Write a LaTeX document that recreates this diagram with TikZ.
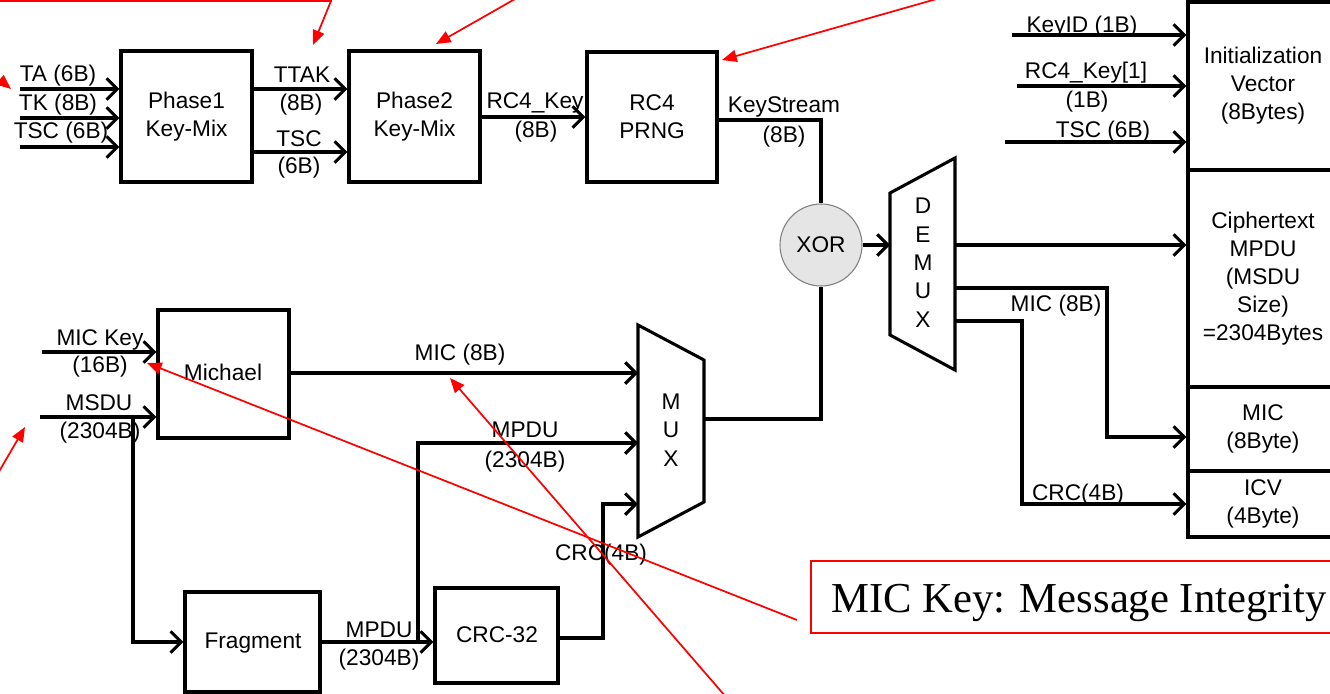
\documentclass[tikz,border=0pt]{standalone}
\usepackage{fontspec}
\setmainfont{Liberation Sans}
\newfontfamily\calloutfamily{Liberation Serif}
\usetikzlibrary{arrows.meta}
\newcommand{\lblfont}{\fontsize{17}{21}\selectfont}
\begin{document}
\begin{tikzpicture}[x=0.75pt,y=-0.75pt,
  line width=2.3pt,
  blk/.style={draw, line width=2.3pt, inner sep=0pt, align=center, font=\lblfont},
  lbl/.style={font=\lblfont, inner sep=0pt, anchor=base},
  arr/.style={-{Straight Barb[length=8pt,width=16pt]}},
  redarr/.style={draw=red, line width=1.3pt, -{Triangle[length=11pt,width=9pt]}},
]
\useasboundingbox (0,0) rectangle (1330,693);
\clip (0,0) rectangle (1330,693);

% ---------- boxes ----------
\node[blk, minimum width=98.25pt, minimum height=98.25pt] (p1) at (186.5,116.5) {Phase1\\Key-Mix};
\node[blk, minimum width=98.25pt, minimum height=98.25pt] (p2) at (414.5,116.5) {Phase2\\Key-Mix};
\node[blk, minimum width=97.5pt, minimum height=97.5pt] (rc4) at (652,117) {RC4\\PRNG};
\node[blk, minimum width=98.25pt, minimum height=96pt] (mich) at (223.5,374) {};
\node[lbl] (michtxt) at (223,380) {Michael};
\node[blk, minimum width=101.25pt, minimum height=75pt] (frag) at (252.5,642) {};
\node[lbl] (fragtxt) at (253,648) {Fragment};
\node[blk, minimum width=92.25pt, minimum height=71.25pt] (crc) at (496.5,635.5) {};
\node[lbl] (crctxt) at (497,642) {CRC-32};

\node[draw=gray, line width=0.8pt, fill=gray!20, circle, minimum size=61.5pt, inner sep=0pt, font=\lblfont] (xor) at (821,245) {XOR};

% right column
\node[blk, minimum width=112.5pt, minimum height=126pt] (iv) at (1263,86) {Initialization\\Vector\\(8Bytes)};
\node[blk, minimum width=112.5pt, minimum height=162.75pt] (ct) at (1263,278.5) {Ciphertext\\MPDU\\(MSDU\\Size)\\=2304Bytes};
\node[blk, minimum width=112.5pt, minimum height=63pt] (micb) at (1263,429) {MIC\\(8Byte)};
\node[blk, minimum width=112.5pt, minimum height=49.5pt] (icv) at (1263,504) {ICV\\(4Byte)};

% MUX / DEMUX
\draw (638,325) -- (704,360) -- (704,502) -- (638,537) -- cycle;
\node[lbl] (muxM) at (671,409) {M};
\node[lbl] (muxU) at (671,437) {U};
\node[lbl] (muxX) at (671,466) {X};
\coordinate (muxA) at (638,373);
\coordinate (muxB) at (638,443);
\coordinate (muxC) at (638,504);
\coordinate (muxOut) at (704,419);

\draw (890,193) -- (955,158) -- (955,370) -- (890,335) -- cycle;
\node[lbl] (dD) at (923,213) {D};
\node[lbl] (dE) at (923,242) {E};
\node[lbl] (dM) at (923,270) {M};
\node[lbl] (dU) at (923,298) {U};
\node[lbl] (dX) at (923,327) {X};
\coordinate (dmxIn) at (890,245);
\coordinate (dmx1) at (955,245);
\coordinate (dmx2) at (955,288);
\coordinate (dmx3) at (955,321);

% ---------- input coordinates ----------
\coordinate (inTA) at (20,89);
\coordinate (inTK) at (20,118);
\coordinate (inTSC) at (20,147);
\coordinate (inMK) at (42,352);
\coordinate (inMSDU) at (40,417);
\coordinate (msduBr) at (133,417);
\coordinate (mpduBr) at (418,642);
\coordinate (inKID) at (1012,35);
\coordinate (inRK) at (1017,86);
\coordinate (inTSC2) at (1005,142);

% ---------- connectors ----------
\draw[arr] (inTA) -- (p1.west |- inTA);
\draw[arr] (inTK) -- (p1.west |- inTK);
\draw[arr] (inTSC) -- (p1.west |- inTSC);
\draw[arr] (p1.east |- 0,89) -- (p2.west |- 0,89);
\draw[arr] (p1.east |- 0,152) -- (p2.west |- 0,152);
\draw[arr] (p2.east |- 0,117) -- (rc4.west |- 0,117);
\draw (rc4.east |- 0,120) -| (xor.north);
\draw[arr] (xor.east) -- (dmxIn);
\draw (muxOut) -| (xor.south);

\draw[arr] (inMK) -- (mich.west |- inMK);
\draw[arr] (inMSDU) -- (mich.west |- inMSDU);
\draw[arr] (msduBr) -- (133,642) -- (frag.west |- 0,642);
\draw[arr] (mich.east |- muxA) -- (muxA);
\draw[arr] (frag.east |- 0,642) -- (crc.west |- 0,642);
\draw[arr] (mpduBr) |- (muxB);
\draw[arr] (crc.east |- 0,638) -- (603,638) -- (603,504) -- (muxC);

\draw[arr] (inKID) -- (iv.west |- inKID);
\draw[arr] (inRK) -- (iv.west |- inRK);
\draw[arr] (inTSC2) -- (iv.west |- inTSC2);
\draw[arr] (dmx1) -- (ct.west |- dmx1);
\draw[arr] (dmx2) -- (1107,288) |- (micb.west |- 0,437);
\draw[arr] (dmx3) -- (1022,321) |- (icv.west |- 0,504);

% ---------- labels ----------
\node[lbl] (lTA) at (58,81) {TA (6B)};
\node[lbl] (lTK) at (58,110) {TK (8B)};
\node[lbl] (lTSC) at (61,138) {TSC (6B)};
\node[lbl] (lTTAK) at (302,82) {TTAK};
\node[lbl] (lTTAKb) at (301,110) {(8B)};
\node[lbl] (lTSCm) at (299,146) {TSC};
\node[lbl] (lTSCmb) at (299,173) {(6B)};
\node[lbl] (lRK) at (535,108) {RC4\_Key};
\node[lbl] (lRKb) at (536,137) {(8B)};
\node[lbl] (lKS) at (784,112) {KeyStream};
\node[lbl] (lKSb) at (784,142) {(8B)};
\node[lbl] (lKID) at (1082,32) {KeyID (1B)};
\node[lbl] (lRK1) at (1086,78) {RC4\_Key[1]};
\node[lbl] (lRK1b) at (1087,107) {(1B)};
\node[lbl] (lTSC2) at (1103,137) {TSC (6B)};
\node[lbl] (lMICr) at (1056,311) {MIC (8B)};
\node[lbl] (lCRCr) at (1078,500) {CRC(4B)};
\node[lbl] (lMK) at (100,345) {MIC Key};
\node[lbl] (lMKb) at (100,372) {(16B)};
\node[lbl] (lMSDU) at (99,410) {MSDU};
\node[lbl] (lMSDUb) at (100,438) {(2304B)};
\node[lbl] (lMICm) at (460,360) {MIC (8B)};
\node[lbl] (lMPDUm) at (525,437) {MPDU};
\node[lbl] (lMPDUmb) at (525,467) {(2304B)};
\node[lbl] (lCRCm) at (601,560) {CRC(4B)};
\node[lbl] (lMPDUl) at (379,637) {MPDU};
\node[lbl] (lMPDUlb) at (379,665) {(2304B)};

% ---------- red annotations ----------
\node[draw=red, line width=1.5pt, minimum width=450pt, minimum height=54pt, anchor=north west, inner sep=0pt] (callout) at (810,560) {};
\node[anchor=base west, inner sep=0pt, font=\calloutfamily\fontsize{32}{38}\selectfont] (callouttxt) at (830,612) {MIC Key: Message Integrity};
\draw[draw=red, line width=1.5pt] (-20,-60) rectangle (331,1);
\coordinate (topnote) at (331,1);
\coordinate (r1s) at (522,-5);
\coordinate (r2s) at (940,-2);
\coordinate (r3s) at (-12,70);
\coordinate (r4s) at (-10,487);
\coordinate (c1s) at (797,620);
\coordinate (c2s) at (726,697);
\coordinate (tTTAK) at (313,45);
\coordinate (tP2) at (436,44);
\coordinate (tRC4) at (722,60);
\coordinate (tTA) at (11,89);
\coordinate (tMSDU) at (25,427);
\coordinate (tMK) at (147,363);
\coordinate (tMIC) at (450,378);
\draw[redarr] (topnote) -- (tTTAK);
\draw[redarr] (r1s) -- (tP2);
\draw[redarr] (r2s) -- (tRC4);
\draw[redarr] (r3s) -- (tTA);
\draw[redarr] (r4s) -- (tMSDU);
\draw[redarr] (c1s) -- (tMK);
\draw[redarr] (c2s) -- (tMIC);
\end{tikzpicture}
\end{document}
